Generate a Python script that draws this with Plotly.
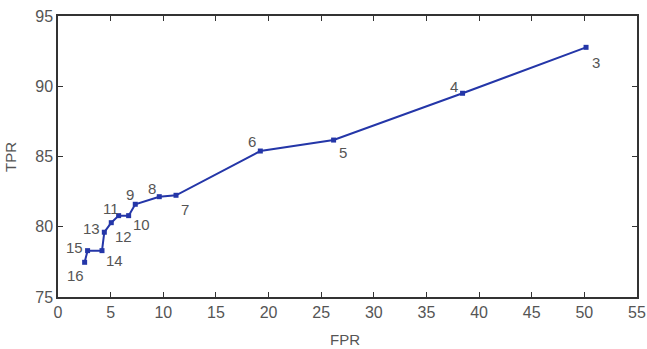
import plotly.graph_objects as go

fpr = [50.16, 38.43, 26.18, 19.22, 11.21, 9.62, 7.34, 6.71, 5.76, 5.06, 4.40, 4.18, 2.81, 2.53]
tpr = [92.77, 89.50, 86.17, 85.39, 82.24, 82.14, 81.60, 80.79, 80.79, 80.29, 79.61, 78.30, 78.30, 77.47]
labels = ["3", "4", "5", "6", "7", "8", "9", "10", "11", "12", "13", "14", "15", "16"]
# label pixel offsets (dx right, dy down)
offsets = [(10, 15), (-9, -7), (9, 12), (-8, -10), (9, 14), (-7, -8), (-5, -10),
           (13, 9), (-8, -7), (12, 14), (-13, -4), (12, 10), (-13, -3), (-9, 13)]

x_ticks = list(range(0, 56, 5))
y_ticks = list(range(75, 96, 5))

FONT = "Liberation Sans, Arial"
GRAY = "#555555"

fig = go.Figure()
fig.add_trace(go.Scatter(
    x=fpr, y=tpr, mode="lines+markers",
    line=dict(color="#2436a8", width=2),
    marker=dict(symbol="square", size=5, color="#2436a8"),
    showlegend=False, hoverinfo="skip",
))
for x, y, t, (dx, dy) in zip(fpr, tpr, labels, offsets):
    fig.add_annotation(x=x, y=y, text=t, showarrow=False, xshift=dx, yshift=-dy,
                       font=dict(family=FONT, size=15, color=GRAY))

fig.add_annotation(xref="paper", yref="paper", x=0.496, y=-0.153, text="FPR",
                   showarrow=False, xanchor="center", yanchor="middle",
                   font=dict(family=FONT, size=15, color=GRAY))
fig.add_annotation(xref="paper", yref="paper", x=-0.083, y=0.498, text="TPR",
                   showarrow=False, xanchor="center", yanchor="middle", textangle=-90,
                   font=dict(family=FONT, size=15, color=GRAY))

axis_common = dict(
    showline=True, linecolor="#333333", linewidth=1.5, mirror="ticks",
    ticks="inside", ticklen=5, tickcolor="#333333", showgrid=False, zeroline=False,
    tickfont=dict(family=FONT, size=16, color=GRAY), automargin=False,
)
fig.update_xaxes(range=[0, 55], tickvals=x_ticks, **axis_common)
fig.update_yaxes(range=[75, 95], tickvals=y_ticks, **axis_common)
fig.update_layout(
    width=647, height=349,
    margin=dict(l=58, r=10, t=16, b=52),
    plot_bgcolor="white", paper_bgcolor="white",
)
fig.write_html("out.html")
